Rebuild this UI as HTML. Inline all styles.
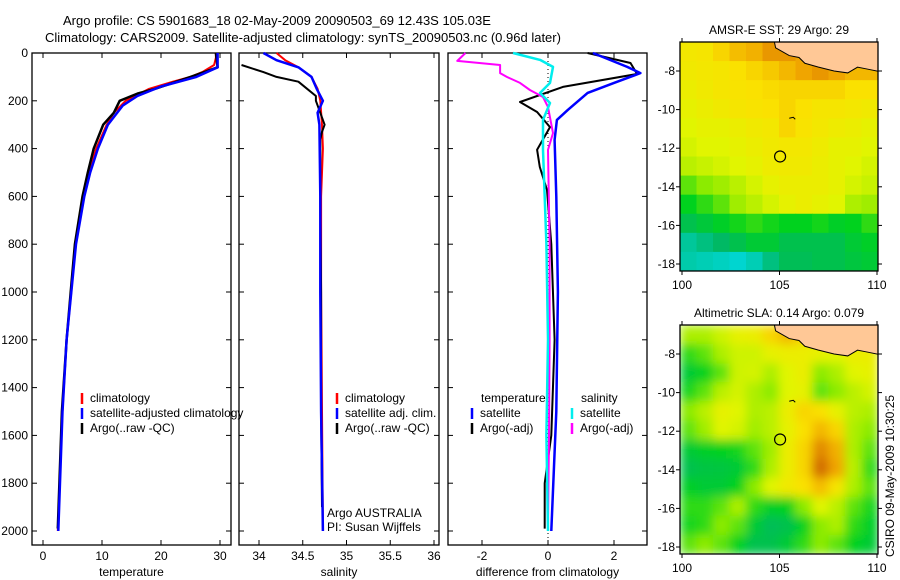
<!DOCTYPE html>
<html><head><meta charset="utf-8"><style>
body{margin:0;background:#fff;}
svg{display:block;font-family:"Liberation Sans",sans-serif;}
</style></head><body>
<svg id="c" width="900" height="580" viewBox="0 0 900 580"></svg>
<script>
// ---- data ----
const tDepthClim=[0,20,50,80,100,120,150,200,250,300,400,500,600,800,1000,1200,1500,2000];
const tClim=[29.3,29.3,29,27,25,22,18,14,12,10.8,9,7.8,6.8,5.5,4.8,4,3.3,2.5];
const tDepthSat=[0,60,100,140,180,220,300,400,500,600,800,1000,1200,1500,2000];
const tSat=[29.6,29.6,26,20,16,13.5,11,9.3,8,7,5.6,4.8,4,3.3,2.6];
const tDepthArgo=[0,60,100,150,170,200,250,300,400,500,600,800,1000,1200,1500,1990];
const tArgo=[29.3,29.6,25,19,16,13,12,10.2,8.6,7.6,6.7,5.4,4.7,4,3.2,2.5];
const sDepthClim=[0,30,60,100,150,200,300,400,600,1000,1500,2000];
const sClim=[34.2,34.3,34.45,34.6,34.67,34.7,34.72,34.73,34.71,34.71,34.72,34.73];
const sDepthSat=[0,30,60,100,150,200,250,300,600,1000,1500,2000];
const sSat=[34.05,34.2,34.45,34.6,34.66,34.73,34.67,34.69,34.7,34.7,34.71,34.73];
const sDepthArgo=[50,80,100,120,150,180,200,250,300,330,360,400,600,1000,1500,1900];
const sArgo=[33.8,34.05,34.2,34.45,34.55,34.65,34.65,34.7,34.75,34.72,34.7,34.7,34.7,34.71,34.71,34.72];
const dDepthTSat=[0,58,84,125,167,238,280,364,600,1000,1500,2000];
const dTSat=[1.36,2.4,2.8,2.0,1.2,0.6,0.27,0.2,0.25,0.3,0.25,0.1];
const dDepthTArgo=[0,42,88,142,205,247,310,405,477,573,800,1200,1600,1800,1990];
const dTArgo=[1.2,2.5,2.7,0.45,-0.85,-0.33,0.06,-0.33,-0.25,-0.03,0.1,0.2,0.1,-0.1,-0.1];
const dDepthSSat=[0,29,58,125,167,209,280,405,800,1200,1600,2000];
const dSSat=[-1.06,-0.24,0.15,0.06,-0.24,0.06,-0.15,-0.15,-0.05,0,-0.05,0];
const dDepthSArgo=[0,33,50,84,100,125,155,184,226,335,405,800,1200,1600,1990];
const dSArgo=[-2.5,-2.75,-1.45,-1.45,-1.25,-0.85,-0.55,-0.15,0,0.15,0,0.05,0.05,0.03,0];
const depthTicks=[0,200,400,600,800,1000,1200,1400,1600,1800,2000];
const tempTicks=[0,10,20,30];
const salTicks=[34,34.5,35,35.5,36];
const diffTicks=[-2,0,2];
const latTicks=[-8,-10,-12,-14,-16,-18];
const lonTicks=[100,105,110];
const sstGrid=[
[.75,.76,.8,.84,.86,.9,.9,.88,.9,.9,.95,.95],
[.74,.75,.76,.78,.8,.82,.85,.88,.9,.88,.85,.85],
[.72,.74,.76,.77,.78,.79,.8,.8,.8,.8,.78,.78],
[.7,.72,.74,.76,.77,.78,.8,.78,.76,.76,.75,.74],
[.68,.7,.7,.72,.74,.75,.8,.77,.75,.73,.72,.7],
[.66,.68,.68,.7,.72,.74,.75,.75,.73,.7,.7,.68],
[.62,.64,.66,.68,.7,.73,.74,.74,.72,.7,.68,.66],
[.5,.55,.58,.62,.66,.7,.72,.72,.72,.7,.66,.64],
[.4,.45,.5,.58,.62,.66,.7,.72,.7,.68,.6,.58],
[.3,.34,.38,.42,.45,.42,.4,.4,.42,.38,.4,.45],
[.15,.2,.25,.3,.35,.35,.3,.3,.3,.3,.35,.38],
[.12,.1,.08,.05,.1,.2,.28,.28,.3,.3,.33,.35]];
const slaGrid=[
[.6,.6,.65,.7,.72,.8,.85,.8,.75,.72,.8,.8],
[.45,.5,.6,.65,.65,.7,.72,.72,.7,.68,.72,.72],
[.35,.4,.5,.65,.66,.6,.68,.72,.55,.6,.68,.7],
[.42,.5,.62,.66,.6,.55,.68,.7,.5,.55,.62,.66],
[.55,.62,.7,.68,.6,.62,.72,.8,.78,.7,.62,.6],
[.5,.58,.68,.66,.58,.62,.7,.78,.85,.8,.6,.55],
[.35,.38,.4,.42,.5,.58,.72,.8,.92,.86,.6,.5],
[.3,.32,.33,.35,.45,.6,.72,.8,.96,.88,.62,.45],
[.38,.35,.35,.4,.55,.68,.74,.78,.84,.76,.6,.5],
[.45,.45,.5,.6,.45,.38,.4,.55,.68,.62,.5,.42],
[.42,.45,.55,.5,.35,.28,.3,.4,.55,.6,.45,.38],
[.5,.55,.5,.4,.3,.3,.35,.45,.55,.5,.4,.35]];
const landLon=[104.7,104.8,105.5,106,106.3,107,107.8,108.5,109,109.5,110.5,110.5];
const landLat=[-6.3,-6.8,-7.2,-7.3,-7.6,-7.8,-8,-8.1,-7.8,-7.9,-8.1,-6.3];
const argoLon=105.03, argoLat=-12.43;

const NS="http://www.w3.org/2000/svg";
const svg=document.getElementById('c');
function el(tag,attrs,parent,txt){const e=document.createElementNS(NS,tag);for(const k in attrs)e.setAttribute(k,attrs[k]);if(txt!==undefined)e.textContent=txt;(parent||svg).appendChild(e);return e;}

const defs=el('defs',{});
const flt=el('filter',{id:'smooth',x:'-5%',y:'-5%',width:'110%',height:'110%'},defs);
el('feGaussianBlur',{stdDeviation:5,edgeMode:'duplicate'},flt);

let t=el('text',{x:63,y:25,'font-size':13});t.textContent='Argo profile: CS 5901683_18 02-May-2009 20090503_69 12.43S 105.03E';

t=el('text',{x:45,y:42,'font-size':13});t.textContent='Climatology: CARS2009. Satellite-adjusted climatology: synTS_20090503.nc (0.96d later)';


const PT=53,PB=545;
const yD=d=>53+d*0.239;
function panel(name,x0,x1,xs,ticks,label,fmt){
  const g=el('g',{});
  
  const r=el('rect',{x:x0,y:PT,width:x1-x0,height:PB-PT,fill:'none',stroke:'#000','stroke-width':1.3},g);
  
  ticks.forEach(v=>{const x=xs(v);
    el('line',{x1:x,x2:x,y1:PT,y2:PT+5,stroke:'#000'},g);
    el('line',{x1:x,x2:x,y1:PB,y2:PB-5,stroke:'#000'},g);
    const tx=el('text',{x:x,y:PB+15,'font-size':12,'text-anchor':'middle'},g,fmt(v));
    });
  depthTicks.forEach(d=>{const y=yD(d);
    el('line',{x1:x0,x2:x0+5,y1:y,y2:y,stroke:'#000'},g);
    el('line',{x1:x1,x2:x1-5,y1:y,y2:y,stroke:'#000'},g);});
  const lb=el('text',{x:(x0+x1)/2,y:576,'font-size':12,'text-anchor':'middle'},g,label);
  
  return g;
}
function line(g,xs,depths,vals,color,w,name){
  const pts=depths.map((d,i)=>xs(vals[i]).toFixed(1)+','+yD(d).toFixed(1)).join(' ');
  const p=el('polyline',{points:pts,fill:'none',stroke:color,'stroke-width':w,'stroke-linejoin':'round'},g);
  
}
function legend(g,x,y,color,text){
  el('line',{x1:x,x2:x,y1:y-9,y2:y+2,stroke:color,'stroke-width':2.5},g);
  const tx=el('text',{x:x+8,y:y,'font-size':12},g,text);
  
}
depthTicks.forEach(d=>{const tx=el('text',{x:28,y:yD(d)+4,'font-size':12,'text-anchor':'end'},svg,String(d));
  });

const xT=v=>43+v*5.9;
let g1=panel('temperature-panel',32,231,xT,tempTicks,'temperature',v=>String(v));
line(g1,xT,tDepthClim,tClim,'#f00',2,'temp-climatology-line');
line(g1,xT,tDepthArgo,tArgo,'#000',2.5,'temp-argo-line');
line(g1,xT,tDepthSat,tSat,'#00f',2.5,'temp-satellite-line');
legend(g1,82,402,'#f00','climatology');legend(g1,82,417,'#00f','satellite-adjusted climatology');legend(g1,82,432,'#000','Argo(..raw -QC)');
const xS=v=>259+(v-34)*87.5;
let g2=panel('salinity-panel',239,439,xS,salTicks,'salinity',v=>String(v));
line(g2,xS,sDepthClim,sClim,'#f00',2,'sal-climatology-line');
line(g2,xS,sDepthArgo,sArgo,'#000',2,'sal-argo-line');
line(g2,xS,sDepthSat,sSat,'#00f',2.5,'sal-satellite-line');
legend(g2,337,402,'#f00','climatology');legend(g2,337,417,'#00f','satellite adj. clim.');legend(g2,337,432,'#000','Argo(..raw -QC)');
let tx=el('text',{x:327,y:517,'font-size':12},g2,'Argo AUSTRALIA');
tx=el('text',{x:327,y:531,'font-size':12},g2,'PI: Susan Wijffels');
const xF=v=>548+v*33;
let g3=panel('difference-panel',448,647,xF,diffTicks,'difference from climatology',v=>String(v));
el('line',{x1:xF(0),x2:xF(0),y1:PT,y2:PB,stroke:'#000','stroke-dasharray':'1,3'},g3);
line(g3,xF,dDepthTArgo,dTArgo,'#000',2,'diff-temp-argo-line');
line(g3,xF,dDepthTSat,dTSat,'#00f',2.5,'diff-temp-satellite-line');
line(g3,xF,dDepthSArgo,dSArgo,'#f0f',2,'diff-sal-argo-line');
line(g3,xF,dDepthSSat,dSSat,'#0ee',2.5,'diff-sal-satellite-line');
tx=el('text',{x:481,y:402,'font-size':12},g3,'temperature');
tx=el('text',{x:581,y:402,'font-size':12},g3,'salinity');
legend(g3,472,417,'#00f','satellite');legend(g3,472,432,'#000','Argo(-adj)');
legend(g3,572,417,'#0ee','satellite');legend(g3,572,432,'#f0f','Argo(-adj)');

const cstops=[[0,[0,220,235]],[.25,[0,185,100]],[.4,[0,210,30]],[.55,[140,235,0]],[.68,[225,245,0]],[.78,[250,225,0]],[.88,[240,165,0]],[1,[195,80,0]]];
function cmap(v){for(let i=1;i<cstops.length;i++){if(v<=cstops[i][0]){const [a,ca]=cstops[i-1],[b,cb]=cstops[i];const f=(v-a)/(b-a);
  return 'rgb('+ca.map((c,k)=>Math.round(c+(cb[k]-c)*f)).join(',')+')';}}return 'rgb(195,80,0)';}
function map(name,top,grid,title,smooth){
  const x0=680,x1=878,y0=top,y1=top+229;
  const xL=lon=>682+(lon-100)*19.5;
  const yL=lat=>top+29+(-8-lat)*19.3;
  const g=el('g',{});
  const cid=name+'-clip';const cp=el('clipPath',{id:cid},g);el('rect',{x:x0,y:y0,width:x1-x0,height:y1-y0},cp);
  const cg=el('g',{'clip-path':'url(#'+cid+')'},g);
  const fg=el('g',smooth?{filter:'url(#smooth)'}:{},cg);
  const rows=grid.length,cols=grid[0].length;const cw=(x1-x0)/cols,ch=(y1-y0)/rows;
  grid.forEach((row,r)=>row.forEach((v,c)=>{
    const cell=el('rect',{x:x0+c*cw,y:y0+r*ch,width:cw+0.6,height:ch+0.6,fill:cmap(v)},fg);
    }));
  const lp=el('polygon',{points:landLon.map((lo,i)=>xL(lo)+','+yL(landLat[i])).join(' '),fill:'#ffc896',stroke:'#000','stroke-width':1},cg);
  
  el('path',{d:'M'+xL(105.5)+' '+yL(-10.45)+' l4 -1 l2 2',stroke:'#000',fill:'none'},cg);
  const c=el('circle',{cx:xL(argoLon),cy:yL(argoLat),r:5.5,fill:'none',stroke:'#000','stroke-width':1.2},g);
  
  el('rect',{x:x0,y:y0,width:x1-x0,height:y1-y0,fill:'none',stroke:'#000','stroke-width':1.3},g);
  latTicks.forEach(la=>{const y=yL(la);el('line',{x1:x1,x2:x1+4,y1:y,y2:y,stroke:'#000'},g);el('line',{x1:x0,x2:x0-4,y1:y,y2:y,stroke:'#000'},g);
    const t=el('text',{x:675,y:y+4,'font-size':12,'text-anchor':'end'},g,String(la));});
  lonTicks.forEach(lo=>{const x=xL(lo);el('line',{x1:x,x2:x,y1:y1,y2:y1+4,stroke:'#000'},g);el('line',{x1:x,x2:x,y1:y0,y2:y0-4,stroke:'#000'},g);
    const t=el('text',{x:x,y:y1+18,'font-size':12,'text-anchor':'middle'},g,String(lo));});
  const tt=el('text',{x:779,y:top-8,'font-size':12,'text-anchor':'middle'},g,title);
  
}
map('sst-map',42,sstGrid,'AMSR-E SST: 29 Argo: 29',false);
map('sla-map',325,slaGrid,'Altimetric SLA: 0.14 Argo: 0.079',true);
tx=el('text',{x:0,y:0,'font-size':12,'text-anchor':'middle',transform:'translate(894,476) rotate(-90)'},svg,'CSIRO 09-May-2009 10:30:25');

</script>
</body></html>
